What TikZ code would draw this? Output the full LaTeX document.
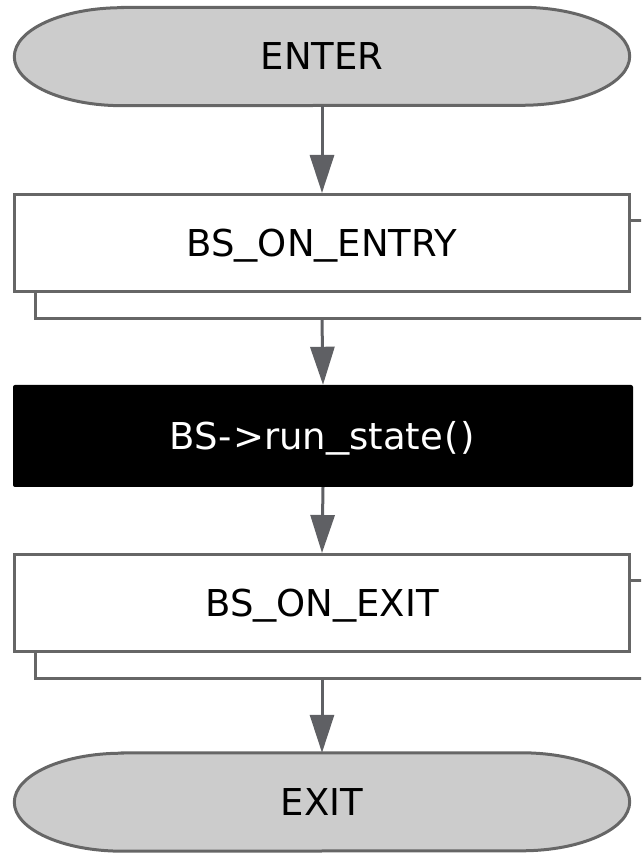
\documentclass[tikz,border=0pt]{standalone}
\usepackage{fontspec}
\usepackage{graphicx}
\setmainfont{DejaVu Sans}
\usetikzlibrary{arrows.meta,backgrounds}
\definecolor{edge}{HTML}{666666}
\definecolor{flow}{HTML}{5F6064}
\definecolor{capfill}{HTML}{CCCCCC}
% a wider, slightly raised underscore
\newcommand\wideus{\raisebox{0.07em}{\scalebox{1.25}[1]{\_}}}
\newcommand\widepar[1]{\kern0.03em#1\kern0.03em}
\begin{document}
\begin{tikzpicture}[x=1pt,y=1pt,
  txt/.style={font=\fontsize{37}{44}\selectfont, text height=27pt, text depth=0pt, inner sep=0pt},
  term/.style={txt, minimum width=615pt, minimum height=98pt},
  stepbox/.style={txt, draw=edge, line width=3pt, fill=white, minimum width=615pt, minimum height=97pt},
  stackbox/.style={draw=edge, line width=3pt, fill=white, minimum width=615pt, minimum height=98pt, inner sep=0pt},
  runbox/.style={txt, fill=black, text=white, rounded corners=2pt, minimum width=620pt, minimum height=102pt},
  flowarrow/.style={draw=flow, line width=3pt, -{Triangle[length=38pt,width=24pt]}},
  capsule/.style={draw=edge, line width=3pt, fill=capfill}
]
\useasboundingbox (0,0) rectangle (641,854);
\clip (0,0) rectangle (641,854);

% start terminator
\node[term] (enter) at (322,797.5) {ENTER};

% entry action, stacked
\node[stackbox] (entryback) at (343,584.5) {};
\node[stepbox] (entry) at (322,611) {BS\wideus ON\wideus ENTRY};

% state body
\node[runbox] (run) at (323,418) {BS\widepar{-}>run\wideus state\widepar{(}\widepar{)}};

% exit action, stacked
\node[stackbox] (exitback) at (343,224.5) {};
\node[stepbox] (exitact) at (322,251) {BS\wideus ON\wideus EXIT};

% end terminator
\node[term] (exit) at (322,52) {EXIT};

% capsule outlines behind the terminator labels
\begin{pgfonlayer}{background}
  \foreach \t in {enter,exit}{
    \path[capsule] ([xshift=108pt]\t.north west) -- ([xshift=-108pt]\t.north east)
      arc[start angle=90, end angle=-90, x radius=108pt, y radius=49pt]
      -- ([xshift=108pt]\t.south west)
      arc[start angle=270, end angle=90, x radius=108pt, y radius=49pt] -- cycle;
  }
\end{pgfonlayer}

% flow
\draw[flowarrow] (enter.south) -- (entry.north);
\draw[flowarrow] (entryback.south -| entry.south) -- (run.north);
\draw[flowarrow] (run.south) -- (exitact.north);
\draw[flowarrow] (exitback.south -| exitact.south) -- (exit.north);
\end{tikzpicture}
\end{document}
